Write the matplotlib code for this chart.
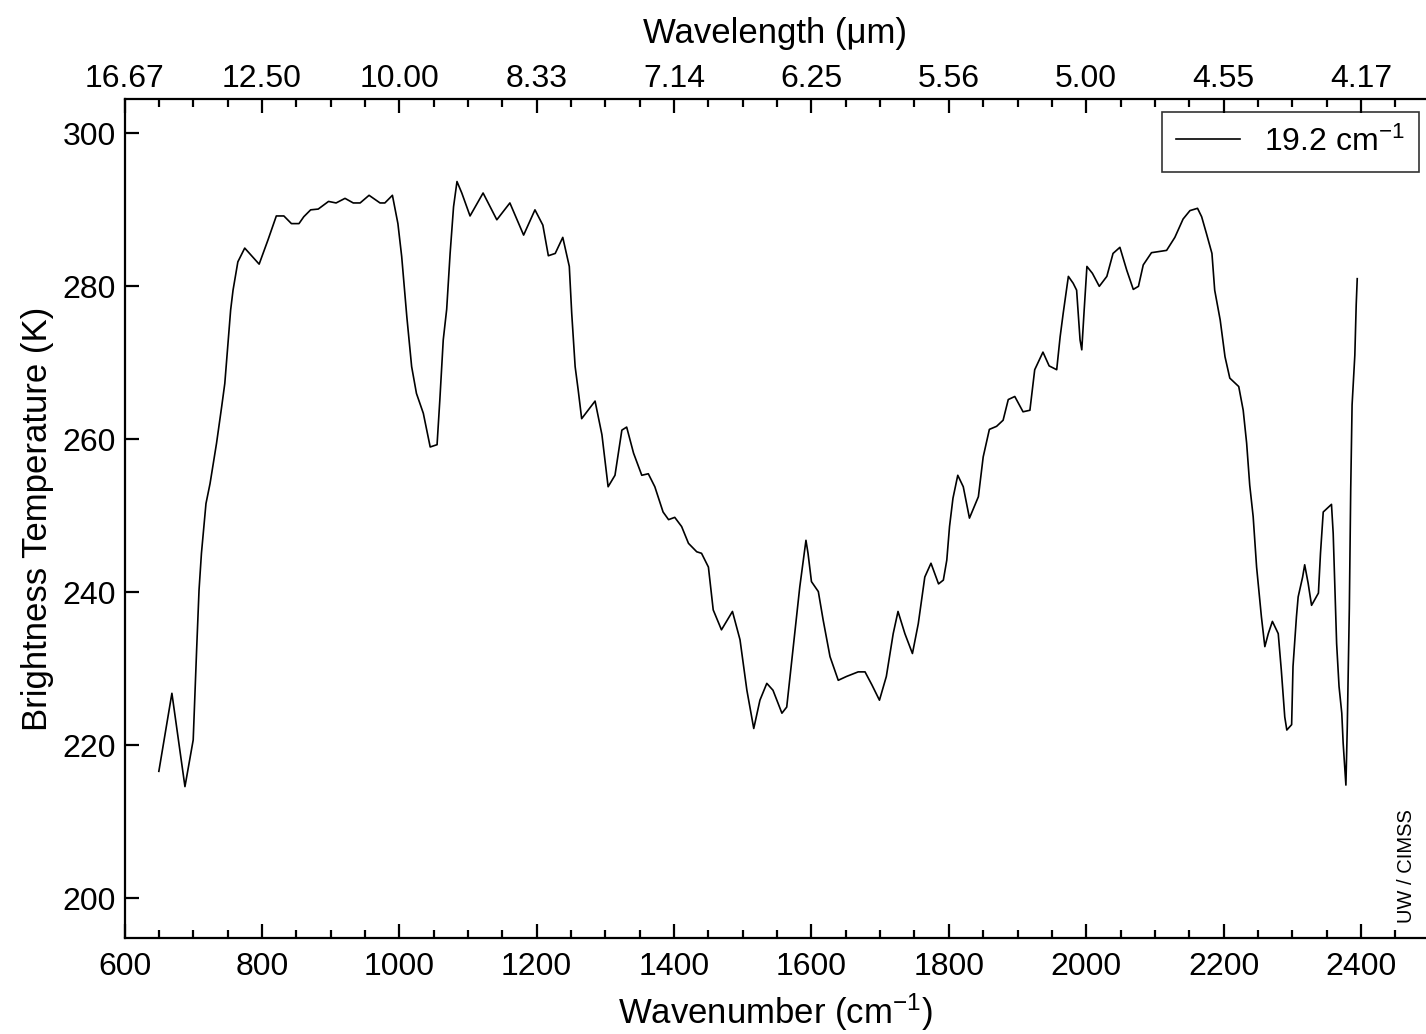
import matplotlib
matplotlib.use("Agg")
import matplotlib.pyplot as plt
import numpy as np

plt.rcParams['font.family'] = ['Liberation Sans', 'DejaVu Sans']
plt.rcParams['mathtext.default'] = 'regular'

# Data (wavenumber cm-1, brightness temperature K)
wavenumber = [650, 669, 688, 700, 705, 708.5, 712, 718.6, 724.5, 734, 741.5, 746, 751, 754.5, 758,
              765, 775, 796, 809, 821, 832, 843, 854, 861, 871, 882, 897, 908, 921, 933, 943, 956,
              972, 979, 990, 998, 1003.5, 1008, 1011, 1018, 1025, 1035, 1045, 1055, 1059, 1064,
              1069, 1074, 1079, 1084, 1091, 1103, 1122, 1142, 1161, 1181, 1197.5, 1209, 1217, 1227,
              1238, 1247.5, 1251, 1256, 1260.5, 1265.5, 1285, 1295, 1304, 1314, 1324, 1331, 1341,
              1353, 1362.5, 1372, 1384, 1392, 1401, 1411, 1421, 1433, 1440, 1450, 1457, 1469, 1485,
              1496, 1506, 1516, 1525, 1535, 1544, 1557, 1564, 1573.5, 1583, 1592, 1595, 1600, 1610,
              1617, 1627, 1639, 1651, 1668, 1678, 1688, 1699, 1709, 1719, 1726, 1736, 1747, 1755.5,
              1765, 1774, 1785, 1792, 1797, 1801, 1806, 1813, 1821, 1830, 1843, 1850, 1859, 1869.5,
              1879, 1886.5, 1896, 1908, 1918, 1925, 1937, 1946, 1957, 1962, 1966.5, 1974, 1981, 1986,
              1991, 1993.5, 1997, 2001, 2009, 2019, 2030, 2039, 2049, 2059, 2068.5, 2076, 2083, 2095,
              2117, 2129, 2141, 2151, 2162, 2168, 2175, 2183, 2187, 2195, 2202, 2209, 2222, 2228.5,
              2233.5, 2238, 2243, 2248, 2255, 2260, 2265, 2271, 2279.5, 2284, 2289, 2292, 2299, 2301,
              2306, 2308.5, 2315, 2318, 2323, 2328, 2338, 2341, 2345, 2357, 2359.5, 2362, 2364.5,
              2368, 2372, 2374, 2376.5, 2378, 2380, 2383, 2385, 2387, 2391, 2393, 2394.5]
brightness_temp = [216.6, 226.8, 214.6, 220.7, 232.5, 240.3, 245.1, 251.6, 254.2, 259.5, 264.3, 267.3,
                   273.0, 276.9, 279.5, 283.2, 285.0, 282.9, 286.1, 289.2, 289.2, 288.2, 288.2, 289.1,
                   290.0, 290.1, 291.1, 290.9, 291.5, 290.9, 290.9, 291.9, 290.9, 290.9, 291.9, 288.2,
                   283.9, 279.1, 276.0, 269.5, 266.0, 263.4, 259.0, 259.3, 265.1, 273.0, 277.0, 284.3,
                   290.4, 293.7, 292.2, 289.2, 292.2, 288.7, 290.9, 286.7, 290.0, 288.0, 284.0, 284.3,
                   286.4, 282.6, 276.5, 269.5, 266.4, 262.7, 265.0, 260.6, 253.8, 255.3, 261.2, 261.6,
                   258.2, 255.3, 255.5, 253.8, 250.5, 249.5, 249.8, 248.6, 246.4, 245.3, 245.1, 243.3,
                   237.7, 235.1, 237.5, 233.8, 227.2, 222.2, 225.9, 228.1, 227.2, 224.2, 225.0, 232.9,
                   240.7, 246.8, 245.1, 241.4, 240.1, 236.4, 231.6, 228.5, 229.0, 229.6, 229.6, 227.9,
                   225.9, 229.0, 234.6, 237.5, 234.6, 232.0, 235.9, 242.0, 243.8, 241.1, 241.6, 244.2,
                   248.6, 252.3, 255.3, 253.8, 249.7, 252.5, 257.7, 261.3, 261.7, 262.5, 265.2, 265.6,
                   263.6, 263.8, 269.1, 271.4, 269.6, 269.1, 273.4, 276.5, 281.3, 280.4, 279.5, 273.0,
                   271.7, 276.9, 282.6, 281.7, 280.0, 281.3, 284.3, 285.1, 282.1, 279.6, 280.0, 282.8,
                   284.4, 284.7, 286.4, 288.8, 289.9, 290.2, 289.1, 286.9, 284.3, 279.5, 275.6, 270.8,
                   268.0, 266.9, 263.8, 259.5, 254.0, 249.9, 243.3, 236.8, 232.9, 234.6, 236.2, 234.6,
                   229.8, 223.7, 222.0, 222.7, 230.3, 236.8, 239.4, 242.0, 243.6, 241.2, 238.3, 239.9,
                   245.1, 250.5, 251.5, 247.7, 240.7, 233.3, 227.7, 224.2, 220.3, 216.8, 214.8, 222.4,
                   237.9, 253.4, 264.5, 271.0, 277.6, 281.0]

x_ticks = [600, 800, 1000, 1200, 1400, 1600, 1800, 2000, 2200, 2400]
y_ticks = [200, 220, 240, 260, 280, 300]
series_label = '19.2 cm$^{-1}$'

W, H = 1426, 1034
fig = plt.figure(figsize=(W / 100, H / 100), dpi=100)
x0, x1 = 124.5, 1426
y0, y1 = 937.7, 99.3
ax = fig.add_axes([x0 / W, 1 - y0 / H, (x1 - x0) / W, (y0 - y1) / H])

ax.plot(wavenumber, brightness_temp, color='black', lw=1.2, label=series_label)

ax.set_xlim(600, 2494.6)
ax.set_ylim(194.85, 304.45)
ax.set_xticks(x_ticks)
ax.set_xticks(np.arange(650, 2500, 50), minor=True)
ax.set_yticks(y_ticks)

for s in ['left', 'bottom', 'top']:
    ax.spines[s].set_linewidth(1.6)
ax.spines['right'].set_visible(False)

fs_tick = 23
fs_lab = 25
ax.tick_params(axis='both', which='major', direction='in', length=10, width=1.6, labelsize=fs_tick)
ax.tick_params(axis='x', which='minor', direction='in', length=5.5, width=1.6)
ax.tick_params(axis='x', which='major', pad=10)
ax.tick_params(axis='y', which='major', pad=6)
ax.tick_params(axis='y', which='minor', left=False)

ax.set_xlabel('Wavenumber (cm$^{-1}$)', fontsize=fs_lab, labelpad=7)
ax.set_ylabel('Brightness Temperature (K)', fontsize=fs_lab, labelpad=6)

# top wavelength axis
ax2 = ax.twiny()
ax2.set_xlim(ax.get_xlim())
ax2.set_xticks(x_ticks)
ax2.set_xticklabels(['%.2f' % (10000.0 / v) for v in x_ticks])
ax2.set_xticks(np.arange(650, 2500, 50), minor=True)
ax2.tick_params(axis='x', which='major', direction='in', length=10, width=1.6,
                labelsize=fs_tick, pad=4)
ax2.tick_params(axis='x', which='minor', direction='in', length=5.5, width=1.6)
for s in ax2.spines.values():
    s.set_visible(False)
ax2.set_xlabel('Wavelength (\u03bcm)', fontsize=fs_lab, labelpad=15)

leg = ax.legend(loc='upper right', bbox_to_anchor=(1419 / W, 1 - 112 / H),
                bbox_transform=fig.transFigure, fontsize=fs_tick, frameon=True, fancybox=False,
                borderaxespad=0, handlelength=2.0, handletextpad=0.75, borderpad=0.45)
leg.get_frame().set_edgecolor('black')
leg.get_frame().set_linewidth(1.2)

fig.text(1407 / W, 1 - 866 / H, 'UW / CIMSS', rotation=90, fontsize=14.5,
         ha='center', va='center')

fig.savefig('out.png', dpi=100)
